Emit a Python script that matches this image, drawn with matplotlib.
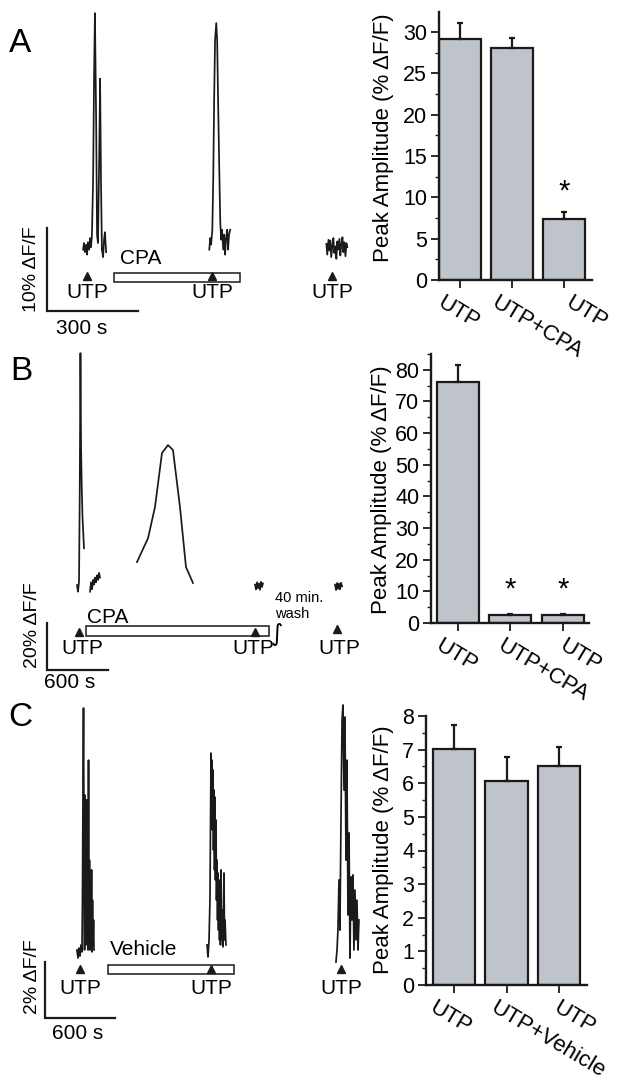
import matplotlib
matplotlib.use('Agg')
import matplotlib.pyplot as plt
import matplotlib.transforms as mtransforms
from matplotlib.patches import Rectangle
from matplotlib.ticker import MultipleLocator, FixedLocator

plt.rcParams['font.family'] = ['Liberation Sans', 'DejaVu Sans']

# ---------------- data ----------------
# bar charts: peak amplitude (% dF/F), mean and upper error
A_labels = ['UTP', 'UTP+CPA', 'UTP']
A_means = [29.1, 28.05, 7.4]
A_errs = [2.0, 1.25, 0.8]
A_stars = [(2, 10.7)]

B_labels = ['UTP', 'UTP+CPA', 'UTP']
B_means = [76.2, 2.5, 2.5]
B_errs = [5.4, 0.2, 0.2]
B_stars = [(1, 10.6), (2, 10.6)]

C_labels = ['UTP', 'UTP+Vehicle', 'UTP']
C_means = [7.02, 6.07, 6.52]
C_errs = [0.72, 0.72, 0.55]

# traces: time (s), response (% dF/F)
A1_t = [119, 122, 125, 129, 132, 135, 139, 142, 145, 148, 152, 155, 158, 162, 165, 168,
        172, 175, 178, 181, 185, 188, 191, 195]
A1_y = [-0.2, 0.6, -0.5, 0.4, -0.8, 0.7, -0.2, 1.2, 0.1, 1.4, 8.2, 20.2, 28.3, 15.4, 1.6, 0.6,
        10.6, 20.4, 8.2, -0.2, -1.1, 1.0, 1.9, -0.5]
A2_t = [535, 538, 541, 545, 548, 551, 554, 558, 561, 564, 568, 571, 574, 577, 581, 584,
        587, 590, 594, 597, 600, 604]
A2_y = [-0.2, 1.2, 0.4, 2.2, 8.2, 17.8, 25.0, 27.1, 25.0, 17.8, 9.4, 3.4, 1.0, 2.2, -0.2, 1.6,
        -0.8, 1.0, 2.2, -0.2, 1.6, 2.2]
A3_t = [921, 924, 928, 931, 934, 937, 941, 944, 947, 951, 954, 957, 960, 964, 967, 970,
        974, 977, 980, 984, 987, 990]
A3_y = [0.5, -0.8, 1.0, -0.3, 0.9, -1.1, 0.4, 1.2, -0.6, 0.2, -1.3, 0.8, -0.2, 1.1, -0.9, 0.3,
        1.3, -0.5, 0.7, -1.0, 0.6, 0.1]
A_utp_t = [132, 545, 940]

B1_t = [295, 305, 315, 322, 329, 335, 342, 349, 364]
B1_y = [0.8, -2.0, 2.5, 40.0, 99.5, 60.0, 42.0, 30.0, 16.5]
B2_t = [423, 433, 443, 453, 463, 472, 482, 492, 502, 512, 521]
B2_y = [-2.0, 2.0, -1.0, 3.0, 1.0, 4.0, 2.0, 5.0, 3.0, 6.0, 4.0]
B3_t = [885, 994, 1062, 1131, 1190, 1239, 1308, 1367, 1436]
B3_y = [10.6, 20.8, 34.0, 57.0, 60.4, 58.3, 34.0, 8.5, 1.7]
B4_t = [2046, 2056, 2066, 2075, 2085, 2095, 2105, 2115, 2124]
B4_y = [1.0, -1.0, 2.0, -0.5, 1.5, -1.2, 2.2, 0.0, 1.5]
B5_t = [2833, 2843, 2853, 2862, 2872, 2882, 2892, 2902]
B5_y = [1.0, -1.3, 1.7, -0.8, 1.5, -1.0, 1.8, 0.3]
B_utp_t = [315, 2046, 2852]

C1_t = [274, 283, 291, 300, 309, 317, 321, 326, 330, 334, 339, 343, 347, 351, 356, 360,
        364, 369, 373, 377, 381, 386, 390, 394, 399, 403, 407, 411, 416, 420]
C1_y = [0.18, -0.11, 0.25, -0.04, 0.36, 0.11, 1.96, 6.25, 8.82, 4.82, 0.18, 5.71, 1.96, 0.36,
        5.54, 0.89, 2.68, 0.18, 6.96, 0.54, 3.39, 0.18, 2.32, 0.36, 3.04, 0.11, 1.96, 0.36,
        1.25, 0.18]
C2_t = [1389, 1397, 1406, 1414, 1423, 1427, 1431, 1436, 1440, 1444, 1449, 1453, 1457, 1461,
        1466, 1470, 1474, 1479, 1483, 1487, 1491, 1496, 1500, 1504, 1509, 1513, 1517, 1526,
        1534, 1539, 1543, 1551]
C2_y = [0.36, -0.07, 0.54, 1.96, 7.21, 5.89, 6.96, 4.46, 6.61, 3.75, 5.89, 3.04, 5.64, 2.68,
        4.82, 1.96, 3.39, 1.25, 2.93, 0.89, 2.68, 0.54, 1.96, 0.36, 3.04, 0.54, 1.61, 0.29,
        2.93, 0.54, 1.25, 0.36]
C3_t = [2494, 2503, 2511, 2520, 2528, 2537, 2546, 2554, 2563, 2571, 2580, 2588, 2597, 2606,
        2614, 2623, 2631, 2640, 2648, 2657, 2666, 2674, 2683, 2691]
C3_y = [-0.25, 0.18, 0.89, 2.68, 0.89, 4.82, 8.39, 8.93, 5.89, 8.5, 3.39, 6.96, 1.43, 4.36,
        -0.11, 2.79, 1.25, 2.86, 0.18, 2.32, 0.54, 1.96, 0.18, 1.25]
C_utp_t = [300, 1423, 2537]

# ---------------- layout helpers ----------------
W, H = 624, 1091
fig = plt.figure(figsize=(W / 100, H / 100), dpi=100)
BAR_GRAY = '#bfc3ca'
DARK = '#1a1a1a'


def px_axes(l, t, r, b):
    ax = fig.add_axes([l / W, 1 - b / H, (r - l) / W, (b - t) / H])
    ax.set_facecolor('none')
    return ax


def trace_axes(box, x0, y0, sx, sy):
    # box in figure pixels, (x0, y0) pixel of data origin, sx s/px, sy %/px
    l, t, r, b = box
    ax = px_axes(l, t, r, b)
    ax.set_xlim((l - x0) * sx, (r - x0) * sx)
    ax.set_ylim((y0 - b) * sy, (y0 - t) * sy)
    ax.axis('off')
    return ax


def trace(ax, t, y):
    ax.plot(t, y, color=DARK, lw=1.25, clip_on=False)


def scale_bar(ax, xlen, ylen, ybot, xlab, ylab, xlab_pos, ylab_pos):
    ax.plot([0, 0, xlen], [ybot + ylen, ybot, ybot], color=DARK, lw=1.6,
            clip_on=False, solid_joinstyle='miter')
    ax.text(*xlab_pos, xlab, ha='center', va='center', fontsize=15)
    ax.text(*ylab_pos, ylab, ha='center', va='center', fontsize=14, rotation=90)


def utp_marks(ax, ts, y_tri, y_txt):
    ax.plot(ts, [y_tri] * len(ts), ls='none', marker='^', ms=5.5, color=DARK,
            clip_on=False, zorder=4)
    for t in ts:
        ax.text(t, y_txt, 'UTP', ha='center', va='center', fontsize=15)


def drug_bar(ax, t0, t1, ylo, yhi, label, tlab, ylab):
    ax.add_patch(Rectangle((t0, ylo), t1 - t0, yhi - ylo, facecolor='white',
                           edgecolor=DARK, lw=1.1, zorder=3))
    ax.text(tlab, ylab, label, ha='left', va='center', fontsize=15)


def bar_panel(box, means, errs, labels, ylim, xlim, major, minor, stars, label_dx, ylab_px):
    ax = px_axes(*box)
    x = list(range(len(means)))
    ax.bar(x, means, width=0.8, color=BAR_GRAY, edgecolor=DARK, linewidth=1.6, zorder=2)
    ax.errorbar(x, means, yerr=[[0] * len(errs), errs], fmt='none', ecolor=DARK,
                elinewidth=1.6, capsize=2.5, capthick=1.6, zorder=3)
    for i, s in stars:
        ax.text(i, s, '*', ha='center', va='center', fontsize=21)
    for side in ['top', 'right']:
        ax.spines[side].set_visible(False)
    for side in ['left', 'bottom']:
        ax.spines[side].set_linewidth(1.7)
        ax.spines[side].set_color(DARK)
    n_major = int(ylim[1] // major)
    ax.yaxis.set_major_locator(FixedLocator([k * major for k in range(n_major + 1)]))
    ax.yaxis.set_minor_locator(MultipleLocator(minor))
    ax.tick_params(axis='y', which='major', direction='out', length=5.5, width=1.3,
                   labelsize=15.5, pad=3, color=DARK)
    ax.tick_params(axis='y', which='minor', direction='out', length=3, width=1.0, color=DARK)
    ax.set_xticks(x)
    ax.set_xticklabels([])
    ax.tick_params(axis='x', direction='out', length=6, width=1.3, color=DARK)
    ax.set_xlim(*xlim)
    ax.set_ylim(*ylim)
    base = mtransforms.blended_transform_factory(ax.transData, ax.transAxes)
    for i, lab in enumerate(labels):
        off = mtransforms.ScaledTranslation(label_dx[i] / 100, -0.12, fig.dpi_scale_trans)
        ax.text(i, 0, lab, transform=base + off, rotation=-31, rotation_mode='anchor',
                ha='left', va='top', fontsize=16)
    fig.text(ylab_px[0] / W, 1 - ylab_px[1] / H, 'Peak Amplitude (% \u0394F/F)',
             rotation=90, ha='center', va='center', fontsize=16)
    return ax


# ---------------- panel A ----------------
fig.text(20 / W, 1 - 43 / H, 'A', fontsize=24, ha='center', va='center')
axA = trace_axes((0, 0, 360, 340), 47, 248, 300 / 91, 10 / 83)
trace(axA, A1_t, A1_y)
trace(axA, A2_t, A2_y)
trace(axA, A3_t, A3_y)
drug_bar(axA, 221, 637, -4.1, -3.0, 'CPA', 241, -1.3)
utp_marks(axA, A_utp_t, -3.4, -5.4)
scale_bar(axA, 300, 10, -7.6, '300 s', '10% \u0394F/F', (115, -9.7), (-49.5, -2.5))

bar_panel((439, 12, 592, 280), A_means, A_errs, A_labels, (0, 32.4), (-0.4, 2.54),
          5, 2.5, A_stars, [-15, -13, 9], (383, 138))

# ---------------- panel B ----------------
fig.text(21 / W, 1 - 372 / H, 'B', fontsize=24, ha='center', va='center')
axB = trace_axes((0, 345, 360, 700), 47, 587, 600 / 61, 20 / 47)
for t, y in [(B1_t, B1_y), (B2_t, B2_y), (B3_t, B3_y), (B4_t, B4_y), (B5_t, B5_y)]:
    trace(axB, t, y)
drug_bar(axB, 384, 2184, -20.9, -16.6, 'CPA', 393, -12.8)
axB.plot(B_utp_t, [-19.1, -19.1, -17.9], ls='none', marker='^', ms=5.5, color=DARK,
         clip_on=False, zorder=4)
for t in [344, 2026, 2872]:
    axB.text(t, -26.0, 'UTP', ha='center', va='center', fontsize=15)
axB.text(2243, -8.1, '40 min.\nwash', ha='left', va='center', fontsize=10.5, linespacing=1.1)
axB.text(2262, -19.8, '\u222b', ha='center', va='center', fontsize=17, family='DejaVu Sans')
scale_bar(axB, 600, 20, -35.3, '600 s', '20% \u0394F/F', (226, -40.8), (-147, -16.2))

bar_panel((431, 354, 589, 623), B_means, B_errs, B_labels, (0, 85), (-0.51, 2.5),
          10, 5, B_stars, [-15, -6, 4], (382, 490))

# ---------------- panel C ----------------
fig.text(20 / W, 1 - 718 / H, 'C', fontsize=24, ha='center', va='center')
axC = trace_axes((0, 700, 360, 1060), 45, 955, 600 / 70, 2 / 56)
trace(axC, C1_t, C1_y)
trace(axC, C2_t, C2_y)
trace(axC, C3_t, C3_y)
drug_bar(axC, 540, 1620, -0.68, -0.36, 'Vehicle', 557, 0.18)
utp_marks(axC, C_utp_t, -0.5, -1.21)
scale_bar(axC, 600, 2, -2.25, '600 s', '2% \u0394F/F', (283, -2.79), (-111, -0.79))

bar_panel((426, 716, 587, 985), C_means, C_errs, C_labels, (0, 8), (-0.53, 2.53),
          1, 0.5, [], [-17, -9, 1], (383, 850))

fig.savefig('out.png', dpi=100)
